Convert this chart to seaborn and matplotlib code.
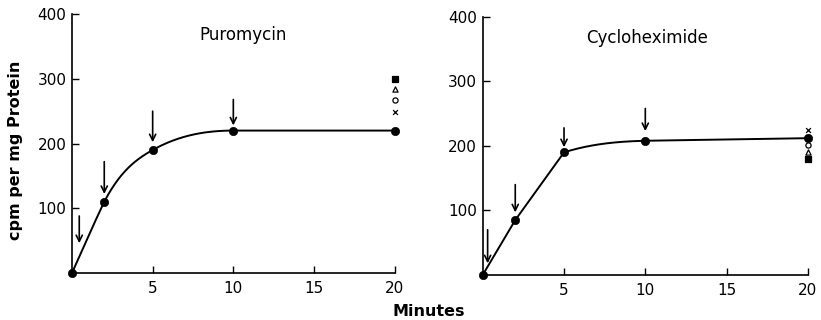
import numpy as np
import pandas as pd
import seaborn as sns
from matplotlib import pyplot as plt

# data
minutes = [0, 2, 5, 10, 20]
puro_cpm = [0, 110, 190, 220, 220]
cyclo_cpm = [0, 85, 190, 208, 212]

# extra symbols at 20 min (square, triangle, circle, cross)
extra_markers = ['s', '^', 'o', 'x']
extra_filled = [True, False, False, False]
puro_extra = [300, 285, 267, 248]
cyclo_extra = [179, 191, 202, 224]

# arrows: x position, tail value, head value
puro_arrow_x = [0.45, 2, 5, 10]
puro_arrow_top = [88, 172, 250, 268]
puro_arrow_tip = [46, 122, 202, 228]
cyclo_arrow_x = [0.3, 2, 5, 10]
cyclo_arrow_top = [70, 140, 228, 258]
cyclo_arrow_tip = [18, 97, 198, 223]

titles = ['Puromycin', 'Cycloheximide']
title_x = [10.6, 10.1]

# shape of the hand drawn curve: tangent leaving / entering each knot
puro_tan_out = [55, 48, 14, 0, 0]
puro_tan_in = [55, 52, 14, 0, 0]
cyclo_tan_out = [42.5, 35, 8, 0.4, 0.4]
cyclo_tan_in = [42.5, 42.5, 35, 0.6, 0.4]


def hermite_curve(x, y, t_out, t_in, n=60):
  xs, ys = [], []
  for k in range(len(x) - 1):
    h = x[k + 1] - x[k]
    t = np.linspace(0, 1, n)
    h00 = 2*t**3 - 3*t**2 + 1; h10 = t**3 - 2*t**2 + t
    h01 = -2*t**3 + 3*t**2; h11 = t**3 - t**2
    xs.append(x[k] + t * h)
    ys.append(h00*y[k] + h10*h*t_out[k] + h01*y[k+1] + h11*h*t_in[k+1])
  return np.concatenate(xs), np.concatenate(ys)


sns.set_style('ticks')
plt.rcParams['font.family'] = ['DejaVu Sans']
plt.rcParams['text.color'] = 'black'
plt.rcParams['xtick.color'] = 'black'
plt.rcParams['ytick.color'] = 'black'
plt.rcParams['axes.labelcolor'] = 'black'
plt.rcParams['axes.edgecolor'] = 'black'

fig = plt.figure(figsize=(8.21, 3.2), dpi=100)
ax1 = fig.add_axes([0.0877, 0.147, 0.393, 0.809])
ax2 = fig.add_axes([0.588, 0.141, 0.396, 0.806])

panels = [
  (ax1, puro_cpm, puro_extra, puro_arrow_x, puro_arrow_top, puro_arrow_tip,
   puro_tan_out, puro_tan_in),
  (ax2, cyclo_cpm, cyclo_extra, cyclo_arrow_x, cyclo_arrow_top, cyclo_arrow_tip,
   cyclo_tan_out, cyclo_tan_in),
]

for (ax, cpm, extra, ax_x, ax_top, ax_tip, t_out, t_in), title, tx in zip(panels, titles, title_x):
  df = pd.DataFrame({'Minutes': minutes, 'cpm': cpm})
  cx, cy = hermite_curve(minutes, cpm, t_out, t_in)
  ax.plot(cx, cy, color='black', lw=1.4, zorder=2)
  sns.scatterplot(data=df, x='Minutes', y='cpm', ax=ax, color='black', s=36,
                  edgecolor='black', zorder=3, legend=False, clip_on=False)
  for mk, filled, val in zip(extra_markers, extra_filled, extra):
    if mk == 'x':
      ax.scatter([20], [val], marker='x', s=12, color='black', linewidths=0.9,
                 zorder=4, clip_on=False)
    else:
      ax.scatter([20], [val], marker=mk, s=14,
                 facecolor='black' if filled else 'white', edgecolor='black',
                 linewidths=0.9, zorder=4, clip_on=False)
  for xa, top, tip in zip(ax_x, ax_top, ax_tip):
    ax.annotate('', xy=(xa, tip), xytext=(xa, top),
                arrowprops=dict(arrowstyle='->', color='black', lw=1.2,
                                mutation_scale=11, shrinkA=0, shrinkB=0))
  ax.text(tx, 368, title, ha='center', va='center', fontsize=12)
  ax.set_xlim(0, 20)
  ax.set_ylim(0, 400)
  ax.set_xticks([5, 10, 15, 20])
  ax.set_yticks([100, 200, 300, 400])
  ax.tick_params(direction='in', length=5, width=1, labelsize=11, pad=4)
  ax.tick_params(axis='x', pad=6)
  ax.set_xlabel('')
  ax.set_ylabel('')
  for s in ['top', 'right']:
    ax.spines[s].set_visible(False)
  for s in ['left', 'bottom']:
    ax.spines[s].set_linewidth(1.2)

fig.text(0.019, 0.53, 'cpm per mg Protein', rotation=90, ha='center', va='center',
         fontsize=11.5, fontweight='bold')
fig.text(0.522, 0.027, 'Minutes', ha='center', va='center', fontsize=11.5,
         fontweight='bold')

fig.savefig('out.png', dpi=100)
